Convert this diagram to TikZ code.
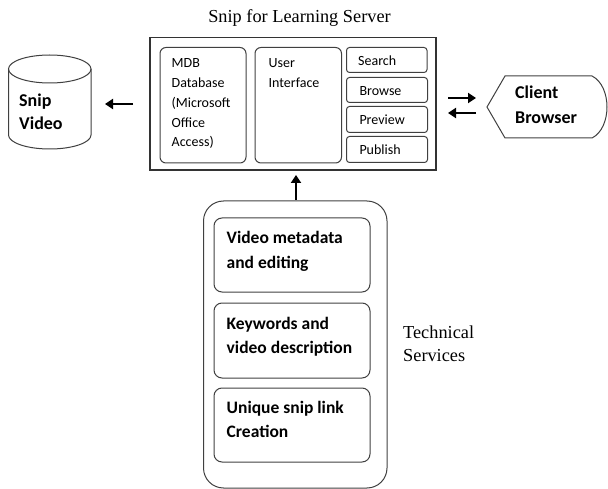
\documentclass[tikz,border=0pt]{standalone}
\usepackage{fontspec}
\setmainfont{Liberation Serif}
\newfontfamily\calib{Carlito}
\usetikzlibrary{arrows.meta}
\tikzset{
  rbox/.style={draw=black!75, line width=1pt, rounded corners=6pt},
  sbox/.style={draw=black!75, line width=1pt, rounded corners=3pt},
  small/.style={font=\calib\fontsize{14}{19.8}\selectfont, align=left, anchor=north west, inner sep=0pt},
  smallb/.style={font=\calib\fontsize{14}{19.8}\selectfont, anchor=base west, inner sep=0pt},
  bigb/.style={font=\calib\bfseries\fontsize{17.5}{24.5}\selectfont, align=left, anchor=north west, inner sep=0pt},
  serif/.style={font=\fontsize{18.3}{23}\selectfont, inner sep=0pt},
  arr/.style={-{Triangle[length=8pt,width=10pt]}, line width=2.8pt},
}
\begin{document}
\begin{tikzpicture}[x=1pt,y=-1pt]
\useasboundingbox (0,0) rectangle (608,489);
% title
\node[serif, anchor=base] (title) at (299.5,22.5) {Snip for Learning Server};
% server box
\draw[line width=1.1pt, draw=black!80] (150,37.5) rectangle (436,170);
\draw[rbox] (160,47.5) rectangle (246,163);
\node[small] (mdb) at (171.5,58.5) {MDB\\Database\\(Microsoft\\Office\\Access)};
\draw[rbox] (255,47.5) rectangle (341.5,163);
\node[small] (ui) at (268.5,58.5) {User\\Interface};
\draw[sbox] (346.5,47.5) rectangle (427,72.5);
\node[smallb] (search) at (358,66) {Search};
\draw[sbox] (346.5,77.5) rectangle (427.5,102.5);
\node[smallb] (browse) at (359.3,95.7) {Browse};
\draw[sbox] (346.5,106.5) rectangle (427.5,132.5);
\node[smallb] (preview) at (359.3,125) {Preview};
\draw[sbox] (346.5,136.5) rectangle (427.5,162.5);
\node[smallb] (publish) at (359.3,155) {Publish};
% cylinder
\draw[line width=1pt, draw=black!75, fill=white] (8.5,69) -- (8.5,135) arc[start angle=180,end angle=0,x radius=41.25,y radius=14] -- (91,69);
\draw[line width=1pt, draw=black!75] (49.75,69) ellipse[x radius=41.25,y radius=14];
\node[bigb, font=\calib\bfseries\fontsize{18}{23.3}\selectfont] (snip) at (19,93.5) {Snip\\Video};
% left arrow
\coordinate (la1) at (133,104);
\coordinate (la2) at (105,104);
\draw[arr] (la1) -- (la2);
% client browser
\draw[line width=1pt, draw=black!75] (505,76) -- (487,107) -- (505,138) -- (592,138) .. controls (612,128) and (612,86) .. (592,76) -- cycle;
\node[bigb, font=\calib\bfseries\fontsize{18}{25}\selectfont] (client) at (515,85.5) {Client\\Browser};
% double arrows
\coordinate (ra1) at (448,98);
\coordinate (ra2) at (476,98);
\coordinate (rb1) at (476,113);
\coordinate (rb2) at (448,113);
\draw[arr] (ra1) -- (ra2);
\draw[arr] (rb1) -- (rb2);
% up arrow
\coordinate (ua1) at (296,200);
\coordinate (ua2) at (296,175);
\draw[arr] (ua1) -- (ua2);
% technical services
\draw[line width=1pt, draw=black!75, rounded corners=20pt] (203.5,201) rectangle (387,488);
\draw[rbox, rounded corners=8pt] (214,218) rectangle (370,292);
\node[bigb] (vm) at (226.5,231.5) {Video metadata\\and editing};
\draw[rbox, rounded corners=8pt] (214,303) rectangle (370,378);
\node[bigb] (kw) at (226.5,317) {Keywords and\\video description};
\draw[rbox, rounded corners=8pt] (214,388) rectangle (370,462);
\node[bigb] (us) at (226.5,401) {Unique snip link\\Creation};
\node[serif, anchor=base west] (tech) at (403,338) {Technical};
\node[serif, anchor=base west] (serv) at (403,361) {Services};
\end{tikzpicture}
\end{document}
